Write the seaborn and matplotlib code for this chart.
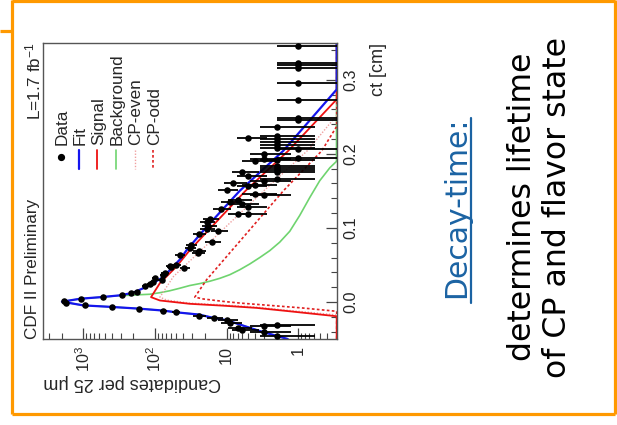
import numpy as np
import matplotlib
matplotlib.use("Agg")
import matplotlib.pyplot as plt
from matplotlib.lines import Line2D
from matplotlib.ticker import FixedLocator, FixedFormatter, LogLocator, MultipleLocator, NullFormatter
import seaborn as sns

# ---------------------------------------------------------------- data
# proper decay length ct [cm] and candidates per 25 um bin
ct_data = [-0.046, -0.0407, -0.0384, -0.0348, -0.0327, -0.0313, -0.028, -0.0237,
           -0.0214, -0.0183, -0.0139, -0.0116, -0.009, -0.0067, -0.004, -0.0013,
           0.0017, 0.0044, 0.0062, 0.0088, 0.0115, 0.0138, 0.0209, 0.0245, 0.0276,
           0.030, 0.0321, 0.0365, 0.0388, 0.0455, 0.0477, 0.0486, 0.0499, 0.0633,
           0.0656, 0.069, 0.0723, 0.0767, 0.0811, 0.0924, 0.0958, 0.099, 0.1021,
           0.1079, 0.1124, 0.1182, 0.119, 0.1258, 0.128, 0.1325, 0.1347, 0.137,
           0.145, 0.146, 0.1513, 0.157, 0.1574, 0.160, 0.1637, 0.1664, 0.170, 0.175,
           0.176, 0.1775, 0.1815, 0.184, 0.1905, 0.191, 0.193, 0.195, 0.200, 0.2066,
           0.2075, 0.212, 0.2155, 0.220, 0.2209, 0.2244, 0.2356, 0.2454, 0.248,
           0.2726, 0.295, 0.316, 0.3203, 0.3226, 0.345]
n_data = [2, 3, 6, 7, 3, 2, 9, 10, 15, 24, 51, 77, 167, 398, 940, 1740,
          1860, 1077, 526, 288, 215, 180, 138, 117, 106, 80, 100, 77, 73, 39, 59,
          62, 50, 45, 25, 24, 32, 31, 16, 24, 13, 19, 18, 19, 17, 7, 5, 12, 5, 6,
          9, 7, 3, 4, 10, 5, 4, 8, 3, 2, 5, 2, 6, 2, 2, 2, 4, 2, 3, 1, 3, 1, 2, 2,
          2, 2, 5, 2, 2, 1, 1, 1, 1, 1, 1, 1, 1]

fit_ct = [-0.05, -0.0394, -0.0305, -0.0246, -0.0214, -0.017, -0.0139, -0.0116,
          -0.009, -0.0067, -0.0046, 0.0004, 0.0044, 0.0067, 0.0088, 0.0115, 0.0140,
          0.0165, 0.0200, 0.0254, 0.0321, 0.0400, 0.0477, 0.058, 0.070, 0.085,
          0.1012, 0.1503, 0.2039, 0.2869, 0.35]
fit_n = [1.4, 3.4, 6.5, 10, 15.4, 24.3, 51, 77, 167, 402, 1000, 1980, 1087, 536,
         318, 223, 185, 162, 134, 106, 81, 66, 55.6, 44, 36, 26.5, 19, 6.5, 1.62,
         0.29, 0.05]

sig_ct = [-0.05, -0.0193, -0.0126, -0.008, -0.005, -0.0025, 0.0020, 0.0065,
          0.0254, 0.0477, 0.070, 0.1503, 0.2039, 0.2735, 0.35]
sig_n = [0.01, 0.29, 1.31, 3.8, 11.2, 32.5, 85, 113, 85, 50, 32.5, 5.4, 1.38,
         0.29, 0.01]

bkg_ct = [-0.05, -0.0394, -0.0305, -0.0246, -0.0214, -0.017, -0.0139, -0.0116,
          -0.009, -0.0067, -0.0046, 0.0004, 0.0044, 0.0067, 0.0088, 0.0090, 0.0098,
          0.0104, 0.0125, 0.0151, 0.0185, 0.0222, 0.0248, 0.028, 0.0319, 0.0368,
          0.0435, 0.0513, 0.060, 0.0693, 0.0807, 0.0954, 0.1169, 0.141, 0.1637,
          0.1811, 0.1898, 0.35]
bkg_n = [1.4, 3.4, 6.5, 10, 15.4, 24.3, 51, 77, 167, 402, 1000, 1970, 1075, 520,
         300, 223, 162, 117, 85, 62, 45, 32.5, 23.6, 17.1, 12.4, 9.0, 6.53, 4.73,
         3.43, 2.49, 1.81, 1.31, 0.95, 0.689, 0.5, 0.362, 0.292, 0.05]

even_ct = [-0.05, -0.0175, -0.0115, -0.007, -0.004, -0.0015, 0.0025, 0.0065,
           0.0343, 0.1503, 0.2039, 0.252, 0.35]
even_n = [0.01, 0.29, 1.31, 3.8, 11.2, 32.5, 68, 85, 55, 3.0, 0.75, 0.29, 0.01]

odd_ct = [-0.05, -0.0126, -0.008, -0.0045, -0.0015, 0.0008, 0.0040, 0.0065,
          0.0299, 0.1503, 0.2039, 0.237, 0.35]
odd_n = [0.01, 0.29, 0.9, 2.6, 6.5, 11.2, 21, 27.7, 19, 1.6, 0.47, 0.29, 0.01]

count_ticks = [1000, 100, 10, 1]
count_tick_labels = [r"$10^{3}$", r"$10^{2}$", "10", "1"]
ct_ticks = [0.0, 0.1, 0.2, 0.3]
ct_tick_labels = ["0.0", "0.1", "0.2", "0.3"]
legend_labels = ["Data", "Fit", "Signal", "Background", "CP-even", "CP-odd"]

# ---------------------------------------------------------------- style
W, H = 617, 425
sns.set_style("white")
plt.rcParams["font.family"] = ["Liberation Sans", "DejaVu Sans"]
plt.rcParams["mathtext.fontset"] = "custom"
plt.rcParams["mathtext.rm"] = "Liberation Sans"
plt.rcParams["mathtext.it"] = "Liberation Sans:italic"
plt.rcParams["mathtext.sf"] = "Liberation Sans"

ORANGE = "#ff9900"
SLIDE_BLUE = "#1b63a3"

fig = plt.figure(figsize=(W / 100, H / 100), dpi=100)
fig.patch.set_facecolor("white")


def fx(px):
    return px / W


def fy(py):
    return 1 - py / H


# the histogram panel is laid on its side: counts run right-to-left, ct upward
ax = fig.add_axes([fx(43.3), fy(339), fx(336.7) - fx(43.3), fy(42.7) - fy(339)])
ax.set_xscale("log")
XMIN, XMAX = 0.29, 3600
ax.set_xlim(XMAX, XMIN)
ax.set_ylim(-0.05, 0.35)

styles = {
    "Fit": dict(color="#1515ee", lw=1.6, ls="-"),
    "Signal": dict(color="#ee1111", lw=1.3, ls="-"),
    "Background": dict(color="#6fd46f", lw=1.2, ls="-"),
    "CP-even": dict(color="#f0a0a0", lw=1.0, ls=(0, (1, 1.2))),
    "CP-odd": dict(color="#e02020", lw=1.2, ls=(0, (1.6, 1.4))),
}
curves = [
    ("Background", bkg_ct, bkg_n),
    ("CP-even", even_ct, even_n),
    ("CP-odd", odd_ct, odd_n),
    ("Signal", sig_ct, sig_n),
    ("Fit", fit_ct, fit_n),
]
for name, cts, ns in curves:
    # values below the axis floor run along the frame, as in the original drawing
    n_clip = np.clip(np.asarray(ns, float), XMIN, None)
    sns.lineplot(x=n_clip, y=np.asarray(cts, float), sort=False, estimator=None,
                 ax=ax, legend=False, **styles[name])

n_arr = np.asarray(n_data, float)
err = np.sqrt(n_arr)
lo = n_arr - np.maximum(n_arr - err, 1e-3)
ax.errorbar(n_arr, ct_data, xerr=[lo, err], fmt="none", ecolor="black",
            elinewidth=1.3, capsize=0, zorder=4)
sns.scatterplot(x=n_arr, y=np.asarray(ct_data), color="black", s=22,
                linewidth=0, ax=ax, zorder=5, legend=False)

# axes, ticks
for s in ax.spines.values():
    s.set_color("#555555")
    s.set_linewidth(1.0)
ax.grid(False)
ax.set_xlabel("")
ax.set_ylabel("")

ax.xaxis.set_major_locator(FixedLocator(count_ticks))
ax.xaxis.set_major_formatter(FixedFormatter(count_tick_labels))
ax.xaxis.set_minor_locator(LogLocator(base=10, subs=np.arange(2, 10), numticks=20))
ax.xaxis.set_minor_formatter(NullFormatter())
ax.tick_params(axis="x", which="both", direction="in", bottom=True, top=False,
               color="#444444", labelsize=11.7, pad=5, labelrotation=90)
ax.tick_params(axis="x", which="major", length=8, width=0.9)
ax.tick_params(axis="x", which="minor", length=4, width=0.8)

ax.yaxis.tick_right()
ax.yaxis.set_major_locator(FixedLocator(ct_ticks))
ax.yaxis.set_major_formatter(FixedFormatter(ct_tick_labels))
ax.yaxis.set_minor_locator(MultipleLocator(0.02))
ax.tick_params(axis="y", which="both", direction="in", left=False, right=True,
               color="#444444", labelsize=11.7, pad=5, labelrotation=90)
ax.tick_params(axis="y", which="major", length=8, width=0.9)
ax.tick_params(axis="y", which="minor", length=4, width=0.8)
for t in ax.get_yticklabels():
    t.set_va("center")

# axis titles
fig.text(fx(378.5), fy(43), "ct [cm]", rotation=90, ha="center", va="top",
         fontsize=13)
fig.text(fx(43.3), fy(382.5), "Candidates per 25 μm", rotation=180, ha="left",
         va="center", fontsize=13)
fig.text(fx(32.5), fy(339), "CDF II Preliminary", rotation=90, ha="center",
         va="bottom", fontsize=12.3)
fig.text(fx(33.5), fy(42.5), r"L=1.7 fb$^{-1}$", rotation=90, ha="center",
         va="top", fontsize=12.3)

# legend, written sideways
leg_x = [61, 79.3, 97.3, 116, 135, 153.3]
for x, lab in zip(leg_x, legend_labels):
    if lab == "Data":
        fig.add_artist(Line2D([fx(x)], [fy(157.3)], marker="o", ms=4.2,
                              color="black", lw=0, transform=fig.transFigure))
    else:
        fig.add_artist(Line2D([fx(x), fx(x)], [fy(150), fy(168.5)],
                              transform=fig.transFigure, **styles[lab]))
    fig.text(fx(x + 1), fy(145), lab, rotation=90, ha="center", va="bottom",
             fontsize=12.3)

# slide text
fig.text(fx(457), fy(207.5), "Decay-time:", rotation=90, ha="center", va="center",
         fontsize=21.5, color=SLIDE_BLUE, family=["DejaVu Sans"])
fig.add_artist(Line2D([fx(471), fx(471)], [fy(303), fy(118)], color=SLIDE_BLUE,
                      lw=1.6, transform=fig.transFigure))
fig.text(fx(540), fy(207), "determines lifetime\nof CP and flavor state",
         rotation=90, ha="center", va="center", multialignment="center",
         linespacing=1.14, fontsize=22.7, color="black", family=["DejaVu Sans"])

# slide frame
frame_lw = 2.3
for xs, ys in [([12, 12], [0, 414]), ([12, 615], [0.8, 0.8]),
               ([614.5, 614.5], [0, 414]), ([12, 615], [413.5, 413.5]),
               ([0, 12], [30.5, 30.5])]:
    fig.add_artist(Line2D([fx(v) for v in xs], [fy(v) for v in ys], color=ORANGE,
                          lw=frame_lw, transform=fig.transFigure,
                          solid_capstyle="butt"))

fig.savefig("out.png", dpi=100, facecolor="white")
